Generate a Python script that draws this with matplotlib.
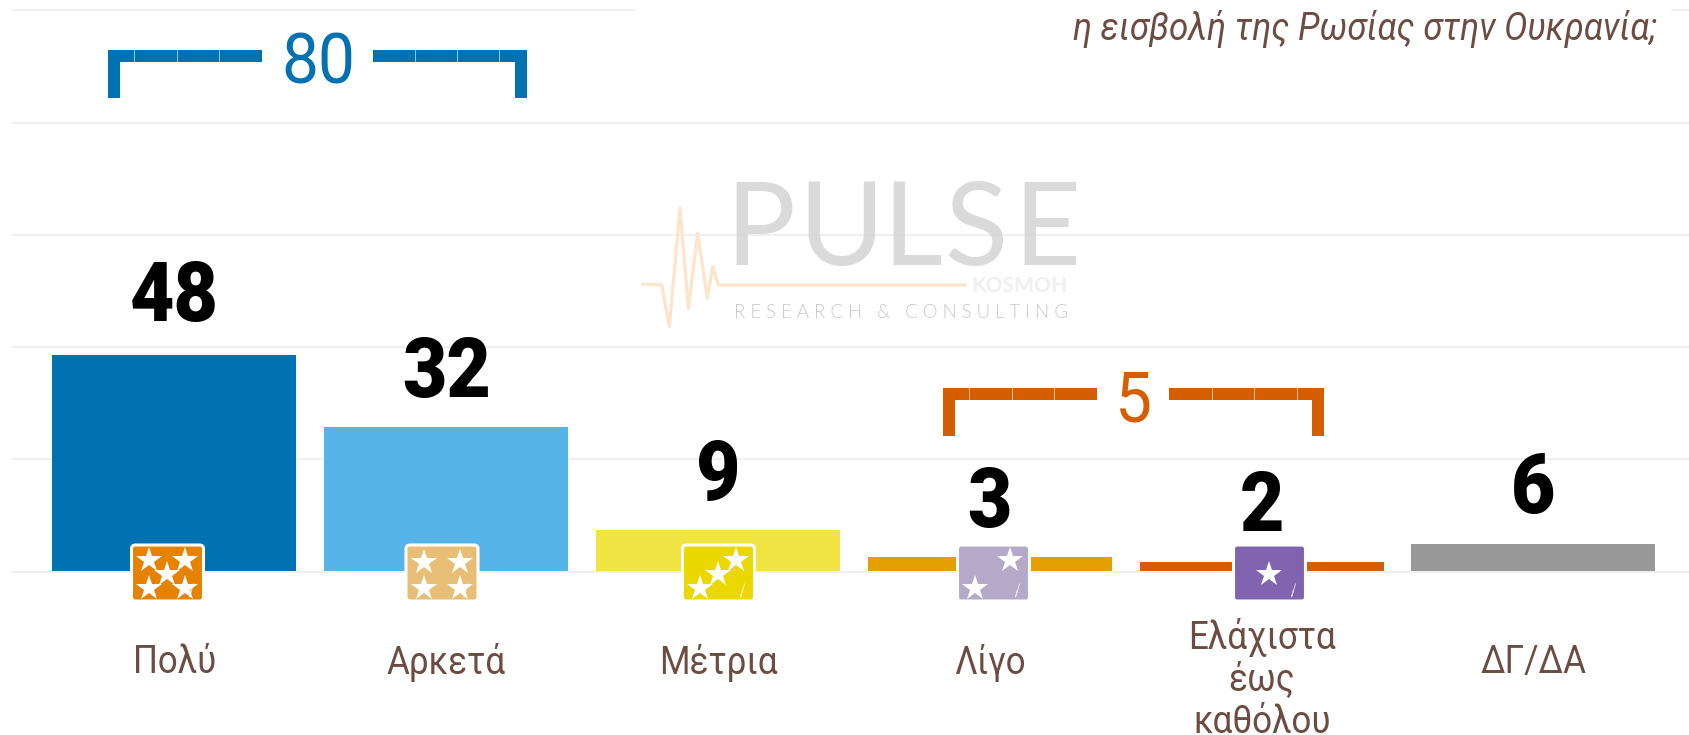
import matplotlib
matplotlib.use("Agg")
import matplotlib.pyplot as plt
from matplotlib.font_manager import FontProperties, findfont
from matplotlib.patches import FancyBboxPatch, Rectangle
from fontTools.ttLib import TTFont

categories = ["Πολύ", "Αρκετά", "Μέτρια", "Λίγο", "Ελάχιστα\nέως\nκαθόλου", "ΔΓ/ΔΑ"]
values = [48, 32, 9, 3, 2, 6]
bar_colors = ["#0072b2", "#56b4e9", "#f0e442", "#e69f00", "#d55e00", "#999999"]
grid_ticks = [0, 25, 50, 75, 100, 125]
title = "η εισβολή της Ρωσίας στην Ουκρανία;"
icon_colors = ["#e68200", "#e8bd75", "#ead800", "#b5a9c9", "#8064b0"]
star_layouts = [
    [(-18, -14), (18, -14), (0, 0), (-18, 14), (18, 14)],
    [(-18, -12), (18, -12), (-18, 14), (18, 14)],
    [(18, -14), (0, 0), (-18, 14)],
    [(17, -14), (-18, 14)],
    [(0, 0)],
]
totals = ["80", "5"]
total_colors = ["#0072b2", "#d55e00"]

BROWN = "#6d4c41"
PX_PER_UNIT = 4.49
STEP = 271.8


def condensed(weight, style, scale, name):
    # no Roboto Condensed here, so squeeze Roboto's glyphs sideways into a local font
    path = findfont(FontProperties(family="Roboto", weight=weight, style=style))
    font = TTFont(path)
    glyf = font["glyf"]
    for gname in font.getGlyphOrder():
        glyph = glyf[gname]
        if glyph.isComposite():
            for comp in glyph.components:
                comp.x = int(comp.x * scale)
        elif glyph.numberOfContours > 0:
            glyph.coordinates.scale((scale, 1))
            glyph.coordinates.toInt()
        adv, lsb = font["hmtx"][gname]
        font["hmtx"][gname] = (int(adv * scale), int(lsb * scale))
    out = name + ".ttf"
    font.save(out)
    return FontProperties(fname=out)


font_label = condensed(400, "normal", 0.9, "label")
font_title = condensed(400, "italic", 0.93, "title")
font_value = condensed(900, "normal", 0.92, "value")
font_total = condensed(400, "normal", 0.93, "total")

fig = plt.figure(figsize=(16.9, 7.35), dpi=100)
ax = fig.add_axes([0, 0, 1, 1])
ax.set_xlim(-174.5 / STEP, (1690 - 174.5) / STEP)
ax.set_ylim((571.5 - 735) / PX_PER_UNIT, 571.5 / PX_PER_UNIT)
for s in ax.spines.values():
    s.set_visible(False)
ax.set_xticks([])
ax.set_yticks([])
ax.patch.set_visible(False)

# gridlines start a bit in from the left edge
for t in grid_ticks:
    ax.axhline(t, xmin=12 / 1690, color="#ececec", lw=1.1, zorder=1)

xs = list(range(len(categories)))
# bars sit just above the baseline gridline
ax.bar(xs, values, width=244 / STEP, bottom=0.2, color=bar_colors, zorder=2)

for x, v in zip(xs, values):
    lift = 25.5 if v > 40 else 22.5
    ax.annotate(str(v), (x, v), xytext=(0, lift), textcoords="offset points",
                ha="center", va="baseline", fontproperties=font_value,
                fontsize=60, color="black", zorder=5)

for x, label in zip(xs, categories):
    y = -24.0 if "\n" in label else -20.3
    ax.text(x, y, label, ha="center", va="center", fontproperties=font_label, fontsize=28,
            color=BROWN, linespacing=1.17, zorder=5)

# overlay in pixels for the decoration
ov = fig.add_axes([0, 0, 1, 1], zorder=3)
ov.set_xlim(0, 1690)
ov.set_ylim(735, 0)
ov.axis("off")

# white box behind the question cuts the top gridline
ov.add_patch(Rectangle((636, 0), 1034, 40, color="white", zorder=1))
ov.text(1657, 29, title, ha="right", va="center", fontproperties=font_title,
        fontsize=27, color=BROWN, zorder=2)


def bracket(left, right, top, inner_l, inner_r, seps_l, seps_r, color):
    thick = 12
    ov.add_patch(Rectangle((left, top), inner_l - left, thick, color=color, lw=0))
    ov.add_patch(Rectangle((inner_r, top), right - inner_r, thick, color=color, lw=0))
    ov.add_patch(Rectangle((left, top), thick, 48, color=color, lw=0))
    ov.add_patch(Rectangle((right - thick, top), thick, 48, color=color, lw=0))
    for sx in seps_l + seps_r:
        ov.plot([sx, sx], [top, top + thick], color="white", lw=0.6, alpha=0.7)


bracket(108.5, 527, 50, 262, 373, [134, 177, 219], [415, 457, 499], total_colors[0])
bracket(943, 1324, 388, 1097, 1169, [969, 1012, 1054], [1212, 1254, 1297], total_colors[1])
ov.text(318, 83, totals[0], ha="center", va="baseline", fontproperties=font_total, fontsize=51,
        color=total_colors[0])
ov.text(1134, 421, totals[1], ha="center", va="baseline", fontproperties=font_total, fontsize=51,
        color=total_colors[1])

# star icons
icon_x = [167.5, 442, 718.5, 993.5, 1269.5]
for cx, col, stars in zip(icon_x, icon_colors, star_layouts):
    w = 72
    ov.add_patch(FancyBboxPatch((cx - w / 2, 545), w, 56, boxstyle="round,pad=0,rounding_size=4",
                                fc=col, ec="white", lw=2.2, zorder=4))
    for dx, dy in stars:
        ov.plot(cx + dx, 574 + dy, marker="*", ms=19, color="white", mew=0, zorder=5)
    ov.plot([cx + 24, cx + 22, cx + 26], [590, 597, 584], color="white", lw=0.7, alpha=0.7, zorder=5)

# logo
pulse_x = [620 + p / 3 for p in (68, 125, 148, 180, 205, 233, 262, 278, 295, 1035)]
pulse_y = [170 + p / 3 for p in (342, 345, 470, 115, 415, 190, 385, 290, 345, 345)]
ov.plot(pulse_x, pulse_y, color="#fde5cc", lw=2.4, zorder=2)
for ch, lx in zip("PULSE", (733, 806, 890, 952, 1021)):
    ov.text(lx - 8, 265, ch, ha="left", va="baseline", family="Lato",
            weight=400, fontsize=84, color="#d6d6d6", alpha=0.9, zorder=2)
ov.text(1068, 292, "KOSMOH", ha="right", va="baseline", family="Lato",
        weight="black", fontsize=15, color="#f0f0f0", zorder=2)
ov.text(1068, 318, " ".join("RESEARCH & CONSULTING"), ha="right", va="baseline",
        family="Lato", weight=300, fontsize=13.4, color="#c8c8c8", zorder=2)

fig.savefig("out.png", dpi=100)
